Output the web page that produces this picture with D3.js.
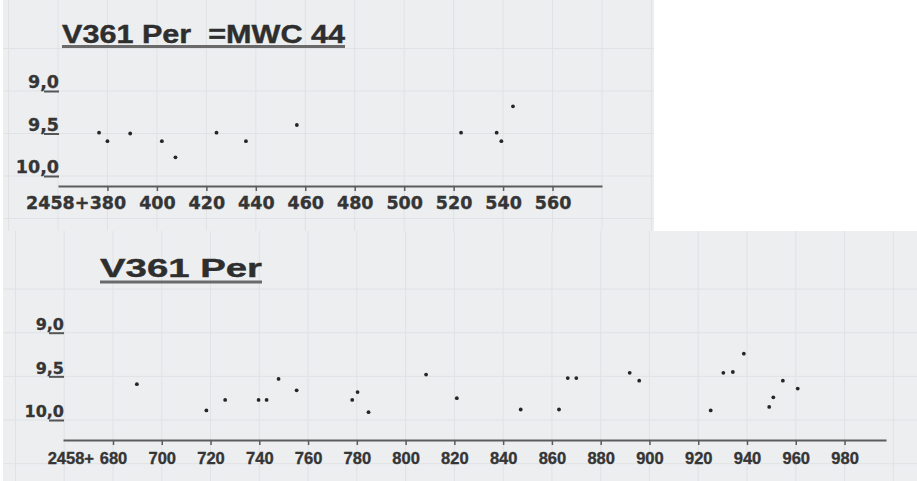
<!DOCTYPE html>
<html>
<head>
<meta charset="utf-8">
<script src="https://cdn.jsdelivr.net/npm/d3@7"></script>
<style>
  body { margin: 0; background: #fff; }
  svg { display: block; }
  .tickx text { font-weight: bold; fill: #353535; stroke: #353535; stroke-width: 0.35px; }
  .ticky text { font-family: "DejaVu Sans", sans-serif; font-weight: bold; fill: #353535; stroke: #353535; stroke-width: 0.3px; }
  .title { white-space: pre; }
</style>
</head>
<body>
<div id="chart"></div>
<script>
// upper panel: V361 Per = MWC 44, JD 2458000+
const topTitle = "V361 Per  =MWC 44";
const topJd  = [376.6, 380.0, 389.2, 402.0, 407.5, 424.1, 436.0, 456.6, 523.0, 537.4, 539.3, 544.0];
const topMag = [9.49, 9.59, 9.50, 9.59, 9.78, 9.49, 9.59, 9.40, 9.49, 9.49, 9.59, 9.18];
const topTicks = [380, 400, 420, 440, 460, 480, 500, 520, 540, 560];

// lower panel: V361 Per
const botTitle = "V361 Per";
const botJd  = [689.8, 718.3, 726.0, 739.7, 743.0, 747.9, 755.3, 778.1, 780.3, 784.8, 808.4, 821.0, 847.2,
                862.9, 866.5, 870.0, 891.9, 895.8, 925.1, 930.3, 934.2, 938.7, 949.1, 950.8, 954.7, 960.8];
const botMag = [9.59, 9.89, 9.77, 9.77, 9.77, 9.53, 9.66, 9.77, 9.68, 9.91, 9.48, 9.75, 9.88,
                9.88, 9.52, 9.52, 9.46, 9.55, 9.89, 9.46, 9.45, 9.24, 9.85, 9.74, 9.55, 9.64];
const botTicks = [680, 700, 720, 740, 760, 780, 800, 820, 840, 860, 880, 900, 920, 940, 960, 980];

const magTicks = [9.0, 9.5, 10.0];
const gridMag = [8.5, 9.0, 9.5, 10.0, 10.5];
const prefix = "2458+";

const width = 917, height = 481;

const svg = d3.select("#chart").append("svg")
  .attr("width", width)
  .attr("height", height);

const panels = [
  {
    title: topTitle, jd: topJd, mag: topMag, ticks: topTicks,
    box: [3, 0, 651, 231],
    xDomain: [360, 580], xRange: [58, 602],
    yRange: [91, 176], axisY: 186,
    titleX: 62, titleY: 42.5, titleW: 283, titleSize: 25, lineY: 46.5,
    tickFont: "DejaVu Sans", tickSize: 17.5, prefixGap: 18, labelPad: 6, ySize: 17.5
  },
  {
    title: botTitle, jd: botJd, mag: botMag, ticks: botTicks,
    box: [3, 231, 914, 250],
    xDomain: [659.5, 997], xRange: [63, 886],
    yRange: [332.7, 420], axisY: 440,
    titleX: 100, titleY: 276.5, titleW: 162, titleSize: 25.5, lineY: 282,
    tickFont: "Liberation Sans", tickSize: 16.5, prefixGap: 19, labelPad: 7, ySize: 16
  }
];

panels.forEach(p => {
  let g = svg.append("g");

  let x = d3.scaleLinear().domain(p.xDomain).range(p.xRange);
  let y = d3.scaleLinear().domain([9, 10]).range(p.yRange);

  g.append("rect")
    .attr("x", p.box[0]).attr("y", p.box[1])
    .attr("width", p.box[2]).attr("height", p.box[3])
    .attr("fill", "#eceef0");

  // faint graph paper behind the chart
  let vLines = d3.range(p.ticks[0] - 40, p.xDomain[1] + 60, 20);
  g.append("g")
    .selectAll("line")
    .data(vLines.filter(v => x(v) > p.box[0] + 4 && x(v) < p.box[0] + p.box[2] - 2))
    .enter().append("line")
      .attr("x1", d => x(d)).attr("x2", d => x(d))
      .attr("y1", p.box[1]).attr("y2", p.box[1] + p.box[3])
      .attr("stroke", "#e0e2e5").attr("stroke-width", 1);
  g.append("g")
    .selectAll("line")
    .data(gridMag)
    .enter().append("line")
      .attr("x1", p.box[0]).attr("x2", p.box[0] + p.box[2])
      .attr("y1", d => y(d)).attr("y2", d => y(d))
      .attr("stroke", "#e0e2e5").attr("stroke-width", 1);

  // title with underline
  g.append("text")
    .attr("class", "title")
    .attr("x", p.titleX)
    .attr("y", p.titleY)
    .attr("font-family", "Liberation Sans, Arial, sans-serif")
    .attr("font-weight", "bold")
    .attr("font-size", p.titleSize)
    .attr("fill", "#2e2e2e")
    .attr("stroke", "#2e2e2e")
    .attr("stroke-width", 0.4)
    .attr("textLength", p.titleW)
    .attr("lengthAdjust", "spacingAndGlyphs")
    .text(p.title);
  g.append("line")
    .attr("x1", p.titleX).attr("x2", p.titleX + p.titleW)
    .attr("y1", p.lineY).attr("y2", p.lineY)
    .attr("stroke", "#6a6a6a").attr("stroke-width", 3);

  // x axis
  let xAxis = g.append("g")
    .attr("class", "tickx")
    .attr("transform", `translate(0,${p.axisY})`)
    .call(d3.axisBottom(x)
      .tickValues(p.ticks)
      .tickSize(5)
      .tickSizeOuter(0)
      .tickPadding(p.labelPad)
      .tickFormat(d => d));
  xAxis.select(".domain").attr("stroke", "#5c5c5c").attr("stroke-width", 2);
  xAxis.selectAll(".tick line").attr("stroke", "#5c5c5c").attr("stroke-width", 1.5);
  xAxis.selectAll(".tick text")
    .attr("font-family", p.tickFont)
    .attr("font-size", p.tickSize);

  g.append("text")
    .attr("class", "tickx")
    .attr("x", x(p.ticks[0]) - p.prefixGap)
    .attr("y", p.axisY + 5 + p.labelPad)
    .attr("dy", "0.71em")
    .attr("text-anchor", "end")
    .attr("font-family", p.tickFont)
    .attr("font-size", p.tickSize)
    .attr("font-weight", "bold")
    .attr("fill", "#353535")
    .attr("stroke", "#353535")
    .attr("stroke-width", 0.35)
    .text(prefix);

  // y labels sit above a short underline
  let yAxis = g.append("g")
    .attr("class", "ticky")
    .attr("transform", `translate(${p.xRange[0] + 1},0)`)
    .call(d3.axisLeft(y)
      .tickValues(magTicks)
      .tickSize(15)
      .tickFormat(d => d3.format(".1f")(d).replace(".", ",")));
  yAxis.select(".domain").remove();
  yAxis.selectAll(".tick line").attr("stroke", "#555").attr("stroke-width", 2);
  yAxis.selectAll(".tick text")
    .attr("x", 0)
    .attr("dy", "-0.2em")
    .attr("font-size", p.ySize);

  // points
  g.append("g")
    .selectAll("circle")
    .data(p.jd.map((d, i) => [d, p.mag[i]]))
    .enter().append("circle")
      .attr("cx", d => x(d[0]))
      .attr("cy", d => y(d[1]))
      .attr("r", 1.9)
      .attr("fill", "#262626");
});
</script>
</body>
</html>
